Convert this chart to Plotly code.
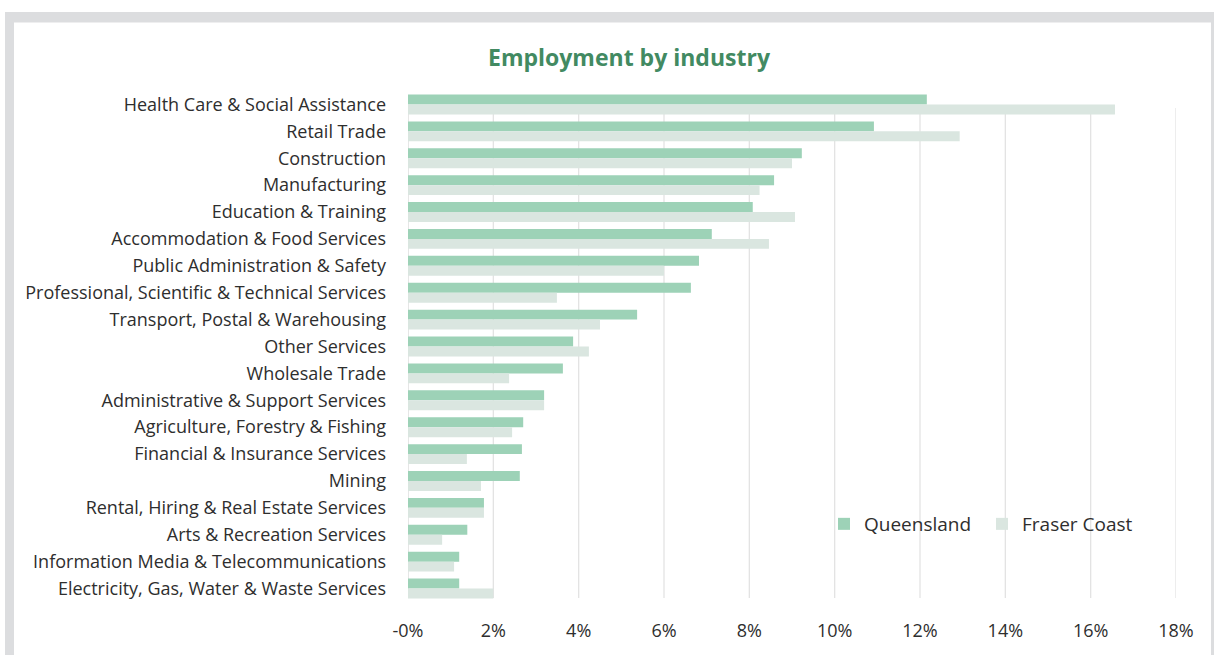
import plotly.graph_objects as go

# Employment share by industry (%), Queensland vs Fraser Coast
industries = [
    "Health Care & Social Assistance",
    "Retail Trade",
    "Construction",
    "Manufacturing",
    "Education & Training",
    "Accommodation & Food Services",
    "Public Administration & Safety",
    "Professional, Scientific & Technical Services",
    "Transport, Postal & Warehousing",
    "Other Services",
    "Wholesale Trade",
    "Administrative & Support Services",
    "Agriculture, Forestry & Fishing",
    "Financial & Insurance Services",
    "Mining",
    "Rental, Hiring & Real Estate Services",
    "Arts & Recreation Services",
    "Information Media & Telecommunications",
    "Electricity, Gas, Water & Waste Services",
]
queensland = [12.16, 10.92, 9.23, 8.58, 8.08, 7.12, 6.82, 6.63, 5.37, 3.87,
              3.63, 3.19, 2.70, 2.67, 2.62, 1.78, 1.39, 1.20, 1.20]
fraser_coast = [16.57, 12.93, 9.00, 8.24, 9.07, 8.46, 6.00, 3.49, 4.50, 4.24,
                2.37, 3.19, 2.44, 1.38, 1.71, 1.78, 0.80, 1.08, 2.00]

tick_vals = [0, 2, 4, 6, 8, 10, 12, 14, 16, 18]
tick_text = ["-0%", "2%", "4%", "6%", "8%", "10%", "12%", "14%", "16%", "18%"]

FONT = "'Open Sans', Lato, sans-serif"
TEXT = "#2e2e2e"
Q_COLOR = "#9dd2b7"
FC_COLOR = "#dae6e0"
FRAME = "#dcdddf"
GRID = "#e3e3e3"

W, H = 1214, 655
L, R, T, B = 408, 38, 91, 53

fig = go.Figure()
fig.add_trace(go.Bar(
    y=industries, x=queensland, name="Queensland", orientation="h",
    marker=dict(color=Q_COLOR, line=dict(width=0)),
    offsetgroup="q",
))
fig.add_trace(go.Bar(
    y=industries, x=fraser_coast, name="Fraser Coast", orientation="h",
    marker=dict(color=FC_COLOR, line=dict(width=0)),
    offsetgroup="fc",
))

pw = W - L - R
ph = H - T - B


def px_x(p):
    return (p - L) / pw


def px_y(p):
    return (H - B - p) / ph


# grey outer frame with white card inside
fig.add_shape(type="rect", xref="paper", yref="paper", layer="below",
              x0=px_x(5), x1=px_x(W + 20), y0=px_y(H + 20), y1=px_y(12),
              fillcolor=FRAME, line=dict(width=0))
fig.add_shape(type="rect", xref="paper", yref="paper", layer="below",
              x0=px_x(14), x1=px_x(1211), y0=px_y(H + 20), y1=px_y(22.5),
              fillcolor="white", line=dict(width=0))

# vertical gridlines (start just below the first bar pair) and the value axis line
grid_top, grid_bottom = px_y(108), px_y(598)
for v in tick_vals:
    fig.add_shape(type="line", xref="x", yref="paper", layer="below",
                  x0=v, x1=v, y0=grid_bottom, y1=grid_top,
                  line=dict(color="#d9d9d9" if v == 0 else GRID, width=1.3))

fig.update_layout(
    width=W, height=H,
    margin=dict(l=L, r=R, t=T, b=B, pad=0),
    paper_bgcolor="white",
    plot_bgcolor="rgba(0,0,0,0)",
    barmode="group",
    bargap=0.26,
    bargroupgap=0,
    font=dict(family=FONT, size=18, color=TEXT),
    title=dict(
        text="<b>Employment by industry</b>",
        font=dict(family=FONT, size=23, color="#428a62"),
        x=629 / W, xref="container", xanchor="center",
        y=1 - 58 / H, yref="container", yanchor="middle",
    ),
    xaxis=dict(
        range=[0, 18], tickvals=tick_vals, ticktext=tick_text,
        showgrid=False, zeroline=False, showline=False,
        ticks="", ticklabelstandoff=16,
        tickfont=dict(family=FONT, size=18, color=TEXT),
        fixedrange=True,
    ),
    yaxis=dict(
        autorange="reversed", categoryorder="array", categoryarray=industries,
        showgrid=False, showline=False, zeroline=False,
        ticks="", ticklabelstandoff=21,
        tickfont=dict(family=FONT, size=18, color=TEXT),
        fixedrange=True,
    ),
    legend=dict(
        orientation="h", x=px_x(824), y=px_y(524),
        xanchor="left", yanchor="middle",
        bgcolor="rgba(0,0,0,0)",
        font=dict(family=FONT, size=19, color=TEXT),
        itemwidth=30,
        entrywidth=113, entrywidthmode="pixels",
    ),
    showlegend=True,
)

fig.write_html("out.html")
